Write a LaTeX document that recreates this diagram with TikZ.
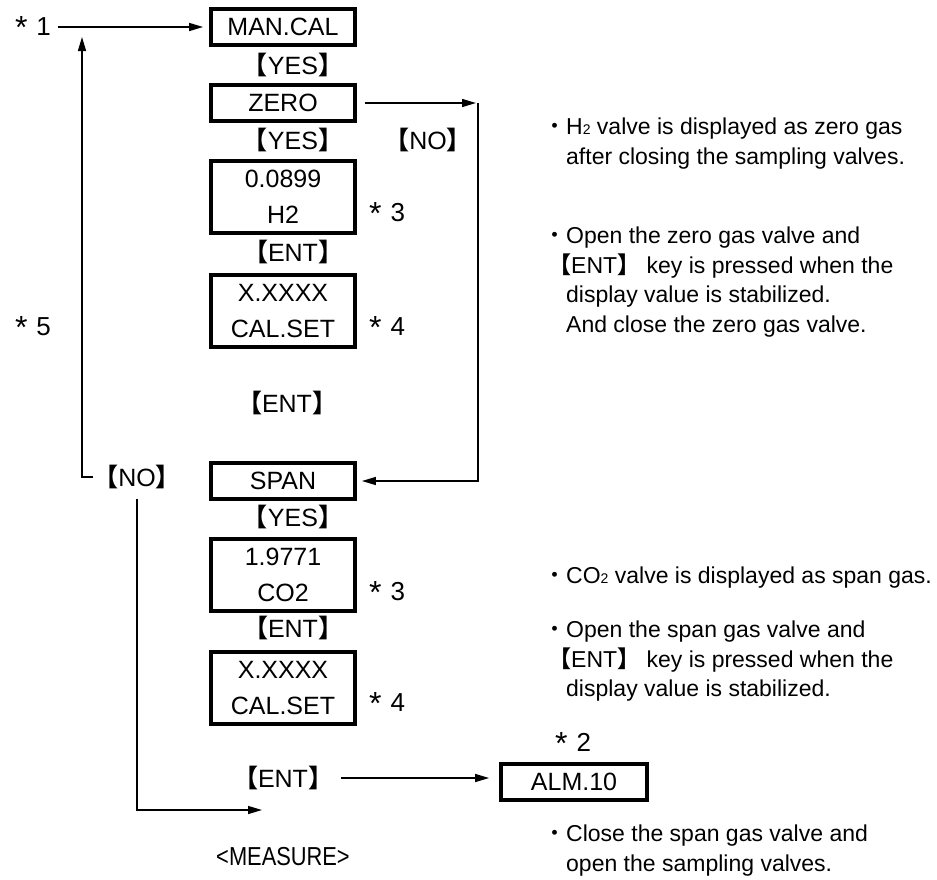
\documentclass[tikz,border=0pt]{standalone}
\usepackage{fontspec}
\setmainfont{Liberation Sans}
\newfontfamily\cjk{Noto Sans CJK JP}
\usetikzlibrary{positioning,arrows.meta,calc}
\newcommand{\kbr}[1]{{\cjk\bfseries 【}#1{\cjk\bfseries 】}}
\newcommand{\astno}[1]{\raisebox{-2.5pt}{\fontsize{32}{32}\selectfont *}\hspace{9pt}#1}

\tikzset{
  dispbox/.style={draw, line width=3.8pt, minimum width=144pt, minimum height=36pt, inner sep=0pt,
    font=\fontsize{25}{36}\selectfont, align=center},
  dispbox2/.style={dispbox, minimum height=72pt},
  keylbl/.style={inner sep=0pt, font=\fontsize{25}{25}\selectfont},
  notemark/.style={inner sep=0pt, font=\fontsize{26}{26}\selectfont},
  notetext/.style={inner sep=0pt, anchor=north west, align=left, font=\fontsize{23}{29.5}\selectfont},
  flow/.style={line width=1.5pt, -{Triangle[length=14pt,width=8pt]}}
}

\begin{document}
\begin{tikzpicture}[x=1pt, y=-1pt]
  \useasboundingbox (0,0) rectangle (937,879);

  % display boxes
  \node[dispbox] (mancal) at (283,27) {MAN.CAL};
  \node[dispbox] (zero) at (283,103) {ZERO};
  \node[dispbox2] (hzero) at (283,197) {0.0899\\H2};
  \node[dispbox2] (calzero) at (283,311) {X.XXXX\\CAL.SET};
  \node[dispbox] (span) at (283,481) {SPAN};
  \node[dispbox2] (cospan) at (283,575) {1.9771\\CO2};
  \node[dispbox2] (calspan) at (283,688) {X.XXXX\\CAL.SET};
  \node[dispbox, minimum width=146pt] (alm) at (574,782) {ALM.10};

  % keys
  \node[keylbl] (yesA) at (293,65) {\kbr{YES}};
  \node[keylbl] (yesB) at (293,140) {\kbr{YES}};
  \node[keylbl] (noA) at (428,140) {\kbr{NO}};
  \node[keylbl] (entA) at (293,252) {\kbr{ENT}};
  \node[keylbl] (entB) at (287,403) {\kbr{ENT}};
  \node[keylbl] (noB) at (137,477) {\kbr{NO}};
  \node[keylbl] (yesC) at (293,517) {\kbr{YES}};
  \node[keylbl] (entC) at (293,628) {\kbr{ENT}};
  \node[keylbl] (entD) at (283,778) {\kbr{ENT}};
  \node[keylbl] (measure) at (283,857) {\scalebox{0.84}[1]{\fontsize{26}{26}\selectfont <MEASURE>}};

  % notes
  \node[notemark] (s1) at (33,27) {\astno{1}};
  \node[notemark] (s5) at (33,327) {\astno{5}};
  \node[notemark] (s3a) at (387,213) {\astno{3}};
  \node[notemark] (s4a) at (387,327) {\astno{4}};
  \node[notemark] (s3b) at (387,592) {\astno{3}};
  \node[notemark] (s4b) at (387,703) {\astno{4}};
  \node[notemark] (s2) at (573,743) {\astno{2}};

  \node[notetext] (txtA) at (543,118) {{\cjk ・}H{\fontsize{14}{14}\selectfont 2} valve is displayed as zero gas\\
    \hspace*{23pt}after closing the sampling valves.};
  \node[notetext] (txtB) at (543,227) {{\cjk ・}Open the zero gas valve and\\
    \hspace*{5pt}\kbr{ENT} key is pressed when the\\
    \hspace*{23pt}display value is stabilized.\\
    \hspace*{23pt}And close the zero gas valve.};
  \node[notetext] (txtC) at (543,567) {{\cjk ・}CO{\fontsize{14}{14}\selectfont 2} valve is displayed as span gas.};
  \node[notetext] (txtD) at (543,621) {{\cjk ・}Open the span gas valve and\\
    \hspace*{5pt}\kbr{ENT} key is pressed when the\\
    \hspace*{23pt}display value is stabilized.};
  \node[notetext] (txtE) at (543,825) {{\cjk ・}Close the span gas valve and\\
    \hspace*{23pt}open the sampling valves.};

  % connectors
  \coordinate (upTip) at (82,37);
  \coordinate (zeroTurn) at (478,103);
  \coordinate (measTip) at (262,810);
  \draw[flow, shorten <=7pt, shorten >=6pt] (s1) -- (s1 -| mancal.west);
  \draw[flow] (noB.west) -| (upTip);
  \draw[flow, shorten <=8pt, shorten >=2pt] (zero.east) -- (zeroTurn);
  \draw[flow, shorten >=5pt] (zeroTurn) |- (span.east);
  \draw[flow, shorten <=10pt] (noB.south) |- (measTip);
  \draw[flow, shorten <=8pt, shorten >=10pt] (entD.east) -- (entD.east -| alm.west);
\end{tikzpicture}
\end{document}
